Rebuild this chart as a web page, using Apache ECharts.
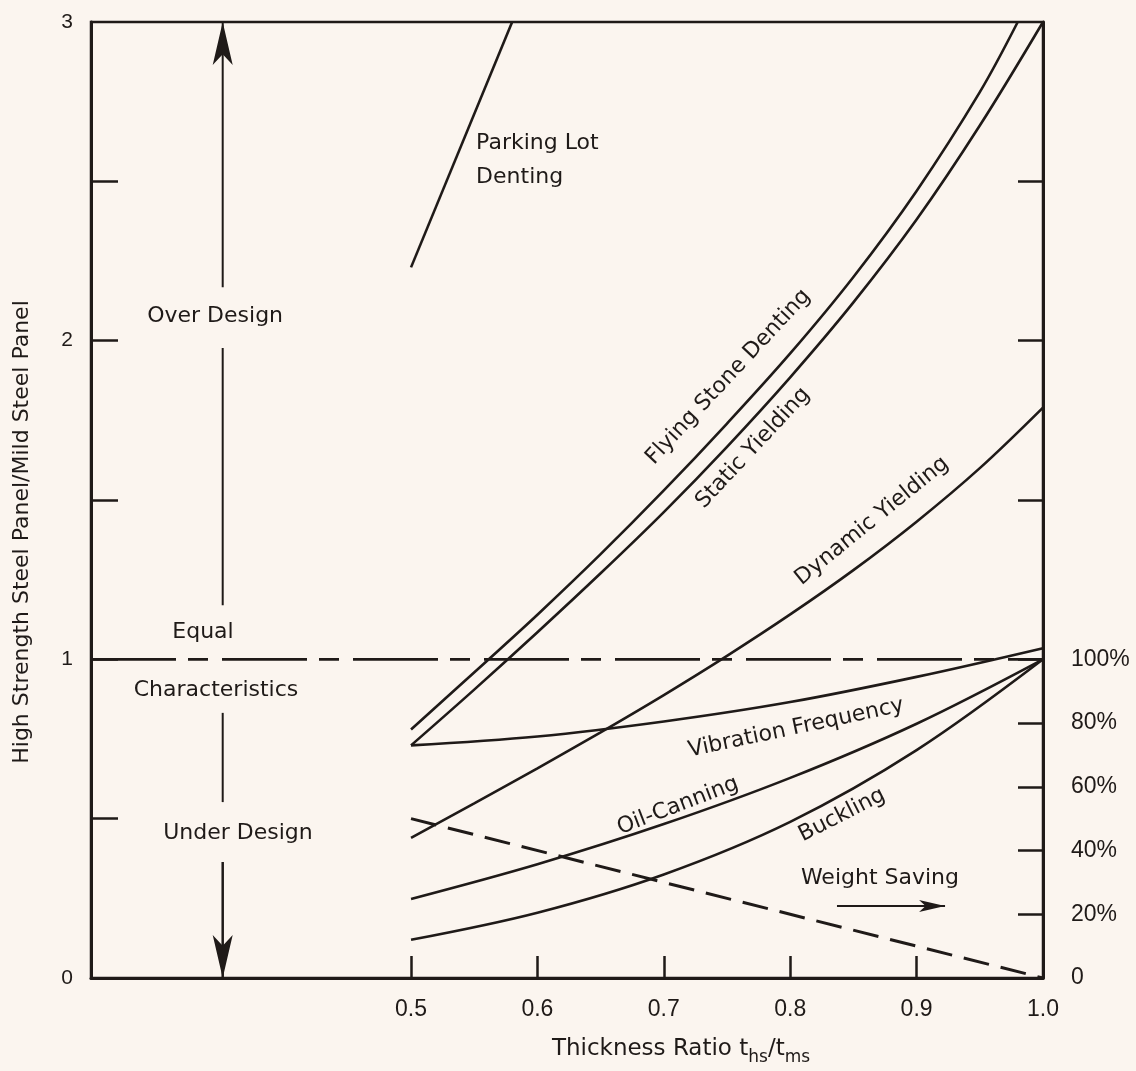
<!DOCTYPE html>
<html>
<head>
<meta charset="utf-8">
<style>
  html, body { margin: 0; padding: 0; background: #fbf5ef; }
  #chart { width: 1136px; height: 1071px; }
</style>
<script src="https://cdn.jsdelivr.net/npm/echarts@6.0.0/dist/echarts.min.js"></script>
</head>
<body>
<div id="chart"></div>
<script>
const ink = '#1f1a18'
const xMin = 0.2468

// axis ticks / labels
const xTickValues = [0.5, 0.6, 0.7, 0.8, 0.9, 1.0]
const yLabelValues = [0, 1, 2, 3]
const yTickValues = [0.5, 1, 1.5, 2, 2.5]
const pctLabelValues = [0, 0.2, 0.4, 0.6, 0.8, 1.0]
const pctTickValues = [0.2, 0.4, 0.6, 0.8, 1, 1.5, 2, 2.5]

// curves (x = thickness ratio, y = HS panel / mild steel panel)
const parkingLotX = [0.5, 0.58]
const parkingLotY = [2.23, 3.0]
const flyingStoneX = [0.5, 0.56, 0.6, 0.65, 0.7, 0.75, 0.8, 0.85, 0.9, 0.95, 0.98]
const flyingStoneY = [0.78, 0.995, 1.14, 1.33, 1.53, 1.74, 1.96, 2.2, 2.47, 2.78, 3.0]
const staticYieldX = [0.5, 0.55, 0.6, 0.65, 0.7, 0.75, 0.8, 0.85, 0.9, 0.95, 1.0]
const staticYieldY = [0.73, 0.905, 1.085, 1.27, 1.462, 1.667, 1.885, 2.12, 2.38, 2.675, 3.0]
const dynamicYieldX = [0.5, 0.55, 0.6, 0.65, 0.7, 0.75, 0.8, 0.85, 0.9, 0.95, 1.0]
const dynamicYieldY = [0.44, 0.548, 0.658, 0.771, 0.888, 1.011, 1.141, 1.28, 1.432, 1.6, 1.79]
const vibrationX = [0.5, 0.6, 0.7, 0.8, 0.9, 1.0]
const vibrationY = [0.73, 0.758, 0.805, 0.866, 0.945, 1.035]
const oilCanningX = [0.5, 0.6, 0.7, 0.8, 0.9, 1.0]
const oilCanningY = [0.248, 0.357, 0.483, 0.628, 0.798, 1.0]
const bucklingX = [0.5, 0.6, 0.7, 0.8, 0.9, 1.0]
const bucklingY = [0.12, 0.205, 0.325, 0.49, 0.715, 1.0]
const weightSavingX = [0.5, 1.0]
const weightSavingY = [0.5, 0.0]
const equalX = [xMin, 1.0]
const equalY = [1, 1]

// arrows of the design bands
const overArrowX = [0.351, 0.351]
const overArrowLowY = [1.17, 1.977]
const overArrowHighY = [2.168, 3.0]
const underArrowHighY = [0.832, 0.552]
const underArrowLowY = [0.364, 0.0]
const savingArrowX = [0.837, 0.9225]
const savingArrowY = [0.226, 0.226]

// annotation texts
const noteText = ['Flying Stone Denting', 'Static Yielding', 'Dynamic Yielding', 'Vibration Frequency',
  'Oil-Canning', 'Buckling', 'Over Design', 'Equal', 'Characteristics', 'Under Design', 'Weight Saving']
const noteX = [0.751, 0.7706, 0.8647, 0.8046, 0.7112, 0.841, 0.345, 0.3354, 0.3457, 0.3631, 0.871]
const noteY = [1.886, 1.663, 1.434, 0.784, 0.540, 0.511, 2.077, 1.086, 0.904, 0.455, 0.314]
const noteAngle = [47, 47, 39, 12, 21, 27, 0, 0, 0, 0, 0]
const parkingNoteX = 0.5515
const parkingNoteY = 2.567

const pairs = (xs, ys) => xs.map((x, i) => [x, ys[i]])

const curve = (name, xs, ys, extra) => Object.assign({
  name: name,
  type: 'line',
  data: pairs(xs, ys),
  smooth: 0.35,
  symbol: 'none',
  clip: false,
  silent: true,
  lineStyle: { color: ink, width: 2.6 }
}, extra)

const arrow = (xs, ys, head) => ({
  type: 'line',
  clip: false,
  silent: true,
  showSymbol: true,
  itemStyle: { color: ink },
  lineStyle: { color: ink, width: head ? head.width : 2 },
  data: pairs(xs, ys).map((p, i) => {
    if (head && i === xs.length - 1) {
      return { value: p, symbol: 'arrow', symbolSize: head.size, symbolRotate: head.rotate }
    }
    return { value: p, symbol: 'none' }
  })
})

const noteFont = { fontFamily: 'DejaVu Sans', fontSize: 22, color: ink, opacity: 1 }

const notes = {
  type: 'scatter',
  symbolSize: 0,
  silent: true,
  clip: false,
  data: noteText.map((t, i) => ({
    value: [noteX[i], noteY[i]],
    label: Object.assign({ show: true, position: 'inside', formatter: t, rotate: noteAngle[i] }, noteFont)
  })).concat([{
    value: [parkingNoteX, parkingNoteY],
    label: Object.assign({ show: true, position: 'inside', align: 'left', formatter: 'Parking Lot\nDenting', lineHeight: 34 }, noteFont)
  }])
}

const chart = echarts.init(document.getElementById('chart'))
chart.setOption({
  backgroundColor: '#fbf5ef',
  animation: false,
  grid: {
    left: 91, right: 93, top: 22, bottom: 93,
    show: true, borderColor: ink, borderWidth: 2.5,
    outerBoundsMode: 'none'
  },
  xAxis: {
    type: 'value',
    min: xMin,
    max: 1.0,
    name: 'Thickness Ratio t{sub|hs}/t{sub|ms}',
    nameLocation: 'middle',
    nameGap: 55,
    nameTextStyle: {
      fontFamily: 'DejaVu Sans', fontSize: 23, color: ink,
      padding: [0, 0, 0, 228],
      rich: { sub: { fontFamily: 'DejaVu Sans', fontSize: 17, color: ink, padding: [16, 0, 0, 0] } }
    },
    axisLine: { show: true, lineStyle: { color: ink, width: 3 } },
    axisTick: { show: true, inside: true, length: 22, customValues: xTickValues, lineStyle: { color: ink, width: 2.5 } },
    axisLabel: {
      customValues: xTickValues, margin: 20, color: ink, fontFamily: 'Liberation Sans', fontSize: 23,
      formatter: v => v.toFixed(1)
    },
    splitLine: { show: false }
  },
  yAxis: [{
    type: 'value',
    min: 0,
    max: 3,
    position: 'left',
    name: 'High Strength Steel Panel/Mild Steel Panel',
    nameLocation: 'middle',
    nameGap: 58,
    nameTextStyle: { fontFamily: 'DejaVu Sans', fontSize: 22, color: ink, padding: [0, 64, 0, 0] },
    axisLine: { show: true, lineStyle: { color: ink, width: 3 } },
    axisTick: { show: true, inside: true, length: 27, customValues: yTickValues, lineStyle: { color: ink, width: 2.5 } },
    axisLabel: { customValues: yLabelValues, margin: 18, color: ink, fontFamily: 'Liberation Sans', fontSize: 21 },
    splitLine: { show: false }
  }, {
    type: 'value',
    min: 0,
    max: 3,
    position: 'right',
    axisLine: { show: true, lineStyle: { color: ink, width: 3 } },
    axisTick: { show: true, inside: true, length: 25, customValues: pctTickValues, lineStyle: { color: ink, width: 2.5 } },
    axisLabel: {
      customValues: pctLabelValues, margin: 28, color: ink, fontFamily: 'Liberation Sans', fontSize: 23,
      formatter: v => v === 0 ? '0' : Math.round(v * 100) + '%'
    },
    splitLine: { show: false }
  }],
  series: [
    curve('Parking Lot Denting', parkingLotX, parkingLotY, { smooth: false }),
    curve('Flying Stone Denting', flyingStoneX, flyingStoneY),
    curve('Static Yielding', staticYieldX, staticYieldY),
    curve('Dynamic Yielding', dynamicYieldX, dynamicYieldY),
    curve('Vibration Frequency', vibrationX, vibrationY),
    curve('Oil-Canning', oilCanningX, oilCanningY),
    curve('Buckling', bucklingX, bucklingY),
    curve('Weight Saving', weightSavingX, weightSavingY, { smooth: false, lineStyle: { color: ink, width: 3, type: [26, 12] } }),
    curve('Equal Characteristics', equalX, equalY, { smooth: false, lineStyle: { color: ink, width: 2.8, type: [85, 12, 20, 14] } }),
    arrow(overArrowX, overArrowLowY, null),
    arrow(overArrowX, overArrowHighY, { width: 2, size: [15, 43], rotate: 0 }),
    arrow(overArrowX, underArrowHighY, null),
    arrow(overArrowX, underArrowLowY, { width: 2.5, size: [15, 43], rotate: 180 }),
    arrow(savingArrowX, savingArrowY, { width: 2, size: [9, 26], rotate: -90 }),
    notes
  ]
})
</script>
</body>
</html>
